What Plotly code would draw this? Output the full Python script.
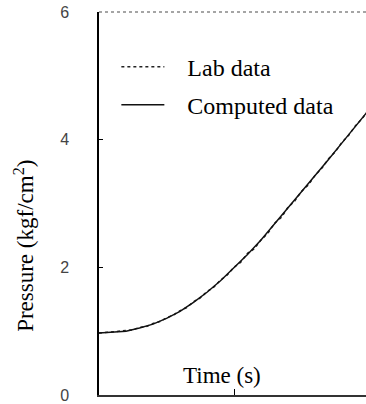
import plotly.graph_objects as go

# ---- data ----
time_s = [0.0, 0.1, 0.2, 0.3, 0.4, 0.5, 0.6, 0.7, 0.8, 0.9, 1.0,
          1.1, 1.2, 1.3, 1.4, 1.5, 1.6, 1.7, 1.8, 1.9, 2.0]
computed_pressure = [0.97, 0.98, 1.00, 1.05, 1.11, 1.20, 1.31, 1.45, 1.61, 1.79, 1.99,
                     2.20, 2.43, 2.68, 2.93, 3.18, 3.43, 3.69, 3.95, 4.21, 4.47]

lab_time = [0.00, 0.05, 0.10, 0.15, 0.20, 0.25, 0.30, 0.35, 0.40, 0.45, 0.50,
            0.55, 0.60, 0.65, 0.70, 0.75, 0.80, 0.85, 0.90, 0.95, 1.00,
            1.05, 1.10, 1.15, 1.20, 1.25, 1.30, 1.35, 1.40, 1.45, 1.50,
            1.55, 1.60, 1.65, 1.70, 1.75, 1.80, 1.85, 1.90, 1.95, 2.00]
lab_pressure = [0.97, 0.98, 0.98, 0.99, 1.01, 1.02, 1.06, 1.07, 1.12, 1.15, 1.21,
                1.25, 1.32, 1.37, 1.46, 1.52, 1.62, 1.69, 1.80, 1.88, 2.00,
                2.08, 2.22, 2.29, 2.43, 2.53, 2.69, 2.78, 2.94, 3.04, 3.19,
                3.29, 3.44, 3.55, 3.70, 3.81, 3.96, 4.07, 4.22, 4.33, 4.48]

y_tick_values = [0, 2, 4, 6]
y_tick_labels = ["0", "2", "4", "6"]
x_tick_values = [1]

SERIF = "Liberation Serif"
PAD = "\u00a0\u00a0\u00a0"

fig = go.Figure()
fig.add_trace(go.Scatter(
    x=lab_time, y=lab_pressure, mode="lines", name=PAD + "Lab data",
    line=dict(color="#222", width=1.5, dash="dot"),
    legendgroup="a",
))
fig.add_trace(go.Scatter(
    x=time_s, y=computed_pressure, mode="lines", name=PAD + "Computed data",
    line=dict(color="#111", width=1.5),
    legendgroup="b",
))

fig.update_layout(
    width=366, height=404,
    margin=dict(l=99, r=0, t=12, b=7),
    plot_bgcolor="white", paper_bgcolor="white",
    showlegend=True,
    legend=dict(
        x=0.065, y=0.915, xanchor="left", yanchor="top",
        font=dict(family=SERIF, size=24, color="black"),
        bgcolor="rgba(0,0,0,0)", traceorder="grouped", tracegroupgap=4,
        itemwidth=43,
    ),
    xaxis=dict(
        range=[0, 267 / 135], tickvals=x_tick_values, showticklabels=False,
        ticks="inside", ticklen=6, tickcolor="black",
        showline=True, linecolor="#333", linewidth=2,
        showgrid=False, zeroline=False,
    ),
    yaxis=dict(
        range=[0, 6], tickvals=y_tick_values, ticktext=y_tick_labels,
        ticks="inside", ticklen=4, tickcolor="black",
        tickfont=dict(family="Liberation Sans", size=16, color="#444"),
        ticklabelstandoff=25, ticklabeloverflow="allow",
        showline=True, linecolor="black", linewidth=1.5,
        showgrid=False, zeroline=False,
    ),
    shapes=[dict(type="line", xref="paper", yref="paper", x0=0, x1=1, y0=1, y1=1,
                 line=dict(color="#888", width=1.5, dash="dot"))],
    annotations=[
        dict(text="Time (s)", xref="paper", yref="paper", x=0.46, y=0.05,
             xanchor="center", yanchor="middle", showarrow=False,
             font=dict(family=SERIF, size=23, color="black")),
        dict(text="Pressure (kgf/cm<sup>2</sup>)", xref="paper", yref="paper",
             x=-0.28, y=0.39, xanchor="center", yanchor="middle", textangle=-90,
             showarrow=False, font=dict(family=SERIF, size=23, color="black")),
    ],
)

fig.write_html("out.html")
